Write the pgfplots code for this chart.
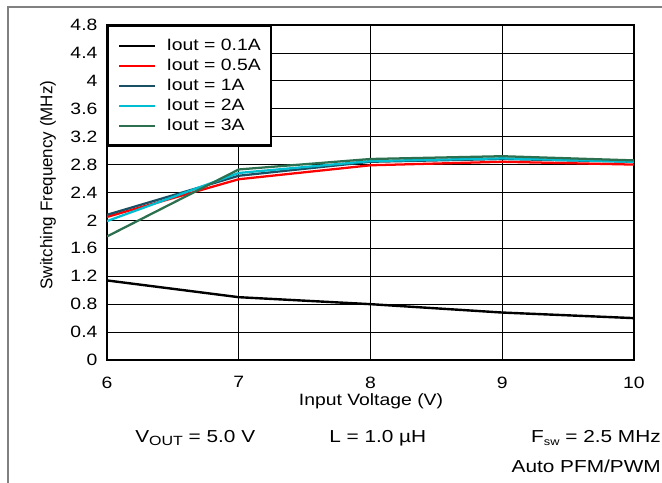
\documentclass[border=0pt]{standalone}
\usepackage{fontspec}
\setmainfont{Liberation Sans}[FakeStretch=1.18]
\newfontfamily\plainsans{Liberation Sans}
\newfontfamily\annot{Liberation Sans}[FakeStretch=1.2]
\usepackage{pgfplots}
\pgfplotsset{compat=1.18}
\definecolor{cNavy}{RGB}{25,80,100}
\definecolor{cCyan}{RGB}{0,190,210}
\definecolor{cGreen}{RGB}{45,112,80}
\definecolor{cRed}{RGB}{255,0,0}
\definecolor{cFrame}{RGB}{128,128,128}
\begin{document}
\fontsize{12.3pt}{15pt}\selectfont
\begin{tikzpicture}
\begin{axis}[
  at={(80.25pt,92.25pt)}, anchor=south west,
  scale only axis, width=395.25pt, height=251.25pt,
  xmin=6, xmax=10, ymin=0, ymax=4.8,
  xtick={6,7,8,9,10}, xticklabels={6,7,8,9,10},
  ytick={0,0.4,0.8,1.2,1.6,2.0,2.4,2.8,3.2,3.6,4.0,4.4,4.8},
  yticklabels={0,0.4,0.8,1.2,1.6,2,2.4,2.8,3.2,3.6,4,4.4,4.8},
  major tick length=0pt,
  grid=major, major grid style={black, line width=0.6pt},
  axis line style={line width=2.2pt},
  xticklabel style={anchor=north, inner sep=0pt, yshift=-12.3pt, font=\fontsize{12.3pt}{15pt}\selectfont},
  yticklabel style={anchor=east, inner sep=0pt, xshift=-7pt, font=\fontsize{12.3pt}{15pt}\selectfont},
  legend style={at={(0,1)}, anchor=north west, draw=black, line width=1.8pt,
    inner xsep=7.5pt, inner ysep=7.3pt, column sep=7.5pt, row sep=0pt,
    font=\fontsize{12.3pt}{15pt}\selectfont,
    nodes={inner sep=0pt, text height=11pt, text depth=4pt}},
  legend cell align=left,
  legend image code/.code={\draw[#1] plot coordinates {(0pt,0pt) (13.5pt,0pt) (27pt,0pt)};},
]
\addplot[black, line width=1.8pt] coordinates {(6,1.14) (7,0.90) (8,0.80) (9,0.68) (10,0.60)};
\addlegendentry{Iout = 0.1A}
\addplot[cRed, line width=1.7pt] coordinates {(6,2.05) (7,2.59) (8,2.79) (9,2.84) (10,2.80)};
\addlegendentry{Iout = 0.5A}
\addplot[cNavy, line width=1.7pt] coordinates {(6,2.08) (7,2.64) (8,2.84) (9,2.88) (10,2.84)};
\addlegendentry{Iout = 1A}
\addplot[cCyan, line width=1.7pt] coordinates {(6,1.99) (7,2.68) (8,2.85) (9,2.89) (10,2.84)};
\addlegendentry{Iout = 2A}
\addplot[cGreen, line width=1.7pt] coordinates {(6,1.77) (7,2.73) (8,2.88) (9,2.92) (10,2.86)};
\addlegendentry{Iout = 3A}
\end{axis}
% frame lines
\draw[cFrame, line width=1pt] (5.25pt,357pt) -- (496.5pt,357pt);
\draw[cFrame, line width=1pt] (6pt,357pt) -- (6pt,0pt);
% axis titles
\node[rotate=90, anchor=center, inner sep=0pt, font=\plainsans\fontsize{12.75pt}{15pt}\selectfont] at (36pt,223.5pt) {Switching Frequency (MHz)};
\node[anchor=center, inner sep=0pt] at (278.25pt,61.5pt) {Input Voltage (V)};
% annotations
\node[anchor=base west, inner sep=0pt] at (101.25pt,30pt) {\fontsize{13pt}{15pt}\annot V\raisebox{-0.3ex}{\fontsize{10pt}{12pt}\selectfont OUT} = 5.0 V};
\node[anchor=base west, inner sep=0pt] at (246.75pt,30pt) {\fontsize{13pt}{15pt}\annot L = 1.0 µH};
\node[anchor=base east, inner sep=0pt] at (495.75pt,30pt) {\fontsize{13pt}{15pt}\annot F\raisebox{-0.3ex}{\fontsize{8pt}{10pt}\selectfont sw} = 2.5 MHz};
\node[anchor=base east, inner sep=0pt] at (495.75pt,8.25pt) {\fontsize{13pt}{15pt}\annot Auto PFM/PWM};
\pgfresetboundingbox
\useasboundingbox (0pt,0pt) rectangle (496.5pt,362.25pt);
\end{tikzpicture}
\end{document}
